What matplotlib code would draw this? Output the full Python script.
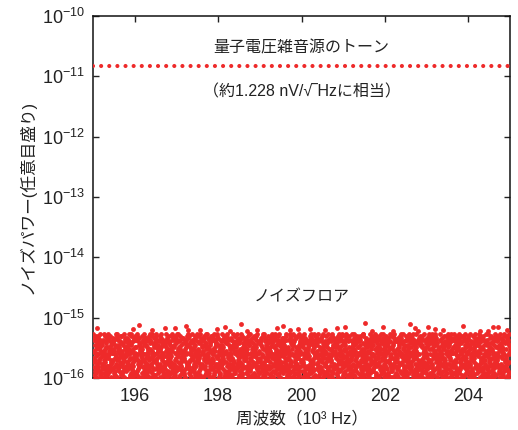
import numpy as np
import matplotlib
matplotlib.use("Agg")
import matplotlib.pyplot as plt
from matplotlib.ticker import FixedLocator, NullLocator

plt.rcParams['font.family'] = ['Liberation Sans', 'Noto Sans CJK JP', 'DejaVu Sans']
plt.rcParams['mathtext.fontset'] = 'custom'
plt.rcParams['mathtext.rm'] = 'Liberation Sans'
plt.rcParams['mathtext.it'] = 'Liberation Sans'

# ---------------- data ----------------
x_min, x_max = 195.0, 205.0
x_ticks = [196, 198, 200, 202, 204]
x_tick_labels = ['196', '198', '200', '202', '204']
y_exponents = [-16, -15, -14, -13, -12, -11, -10]
y_tick_labels = ['10$^{-16}$', '10$^{-15}$', '10$^{-14}$', '10$^{-13}$',
                 '10$^{-12}$', '10$^{-11}$', '10$^{-10}$']

tone_level = 1.47e-11          # quantum voltage noise source tone
noise_log_low = -16.04          # noise floor band (log10 power), code 'a'
noise_log_high = -15.27         # noise floor band (log10 power), code 'z'

# noise floor spectrum, one letter per frequency bin (a = low ... z = high)
noise_codes = (
    "qmzadkxhwtbfpleyrvncsjogiuhbyxofkrtlmsdwazqeucpvgnjitpvjcwnlzeaqrgkhyuosdbmfixwdesiznmxqbgofvhaytkrjlcpu"
    "kagrvuxlpqwhecodfbmtjsinzycxlbzqitgwpfhrmsvaojkenduyyjoeqdmhutfkzcbalwnxgrsvpinfksaqbxgutjwvolhrzdcmpiey"
    "utzhgmcjqeifvrkoawxdsbpylnemwsnzfdaoygvjbltxcikhpurqjsqnkbecpmrywlvahzufoitgdxbkmvoxetdsahjgnqwprlfiyczu"
    "ravwyfjimhczoqepkunblxstdgoxucdkyszvlgphjmraeqwtbnifvyrhjqcsbnxzflugmodtpawkeiihdgtaunkvqbszxerwcpjolfmy"
    "dlpuitvormkebnhsfqjyzacgwxscetjlwdyipaxumfvzghbonkqrzgbcpvsryjwdikmhtqfxneluoafnxqemdlbgrwcuovskaiyhjtpz"
    "xtijyghakeusdlocrvpqfmzwbnlrhfubgnwsjtpyexdaiqkcomzvpeyklroqfcnmudgzjbvhxiwastaojpbhqwcxyvmltingdsekzruf"
    "mzfoxsnpkdwelraitcbguqjvyhgcykmpolaxrhbezwdjvsqfiuntwuamzjybhfgnxpctqikrdeslovhiwtqrzjngsbmlyvcoxkfapedu"
    "bvqkyiaduznxfomwehtcjrplsgndoxwrgcmabjivtlzkeusqhyfpyegsabtovjqwznphildkucmxfrkfwcnizqogdyjeupxrshbmtlav"
    "sxhlnepmaqugwbrifyokdctvzjtgzmfwlhcvoparixdsnjkbueqyjqdbrtxnsyhowikzgmaclfupveephquvmklixbtwajfosgynzcdr"
    "zkajdfhcxmvrtgbqwsiolepnyulbnrgiwkqdpsvyxehaumzotcfjvcixosmbyelfzwqatkrnjghpdudwmyzleqtjhcgnbkosvarupfxi"
    "hnuexkvtbprqsmogyzfjiwdlcarmsdpghbnwfqjlezcxukiayvotofrtzcuwnavdgiklhyexpbsqjmgjbenyrmcadzthsvfpuqolkxiw"
    "ytwlacoskfjupzimerxhndbvgqcqimuwpshrodanetbgyvjlfzxkiexvlhqufrtkjcgsmpzodwnybaupyctbjxgqmkhnzfadviwlsreo"
    "wlxhgbkyaqnczrusfdtpemjiovqjptkdyfmsuehwvgzlarbocnximbdnvlkrfwzcqyshoeptxgiajuaiqwohsnmuetdxbjlcfygzkvrp"
    "nxlspfqgbjwaoktyzchvdmuiereufkqntwrzyxjamlbdoghcpvsikyoqcwebgmhlaiszvdpnfrtjuxtorzdiqclgvufmwhbaynksejpx"
    "svbxojyidatwqlgpkcfhenruzmzyqirdkobmgatlwxunpjesvhfcdqhtmigwcpzaeukxrjlsfvyonbfgoatvnxhkzlbrjwydecmquisp"
    "jcnmwqsxkbytgpadiofrvzhelupmvgxfzotrjceiqnslwbkhyuadgwptdxuqeabrklsnvzjcihmyfocfrsgyhjmutbqzaxwpidklveno"
    "lvgdrbmkchxiosuqtapfyjwnezxpkbeoujzacmrvhtfgsnlqidwybodfwckitmsrhlqyxenzjgvapuiksyhanbpfxlzdquwoevtmgcrj"
    "rezsmnqhpfjubgldcwvaixotykvudjxalgystfcepwmibrnzqhkoqwfpnujebsomxcgkathivdlrzyekhaolurxwbdzcjigvyfnstqpm"
    "dyzpvqgtxwnkhclbaurmioefjshgkqlazwvndpejxbomtcfusirymirkbtvldfhgcpyqueajonwzxsnutyjgcmlqoizvfxebwdrpashk"
    "pjaxbzetlhsvikqofdyncgrwumtsnfzxwebqkahgjoylpudvmcriabcyqhxrnjvldtzeiwmsgoukpfyhqxwkctfaeisjzbrvlmnodgup"
    "cfenlyurdkmqsxzhwbjavtiopgoeiqxtnawuzbfhyjgscplkmvrdxmkfsgrdhyncwtobalevjupqzivtdnwgpbzqhefokrmuxjlcsyia"
    "faqdurmbgjoxvtcpeilkzhnwsykxdvlopjmhysnwbreiftcgzqaubntjxemqsircwdvpzygfouklahihmlnrxjcvygdufwapetkozbqs"
)

# sparse peaks rising above the noise floor band
outlier_freq = [195.09, 195.97, 196.11, 196.41, 196.73, 196.97, 197.22, 197.29,
                197.57, 197.97, 198.17, 198.29, 198.55, 198.69, 198.93, 199.41,
                199.56, 199.72, 199.92, 200.20, 200.56, 200.84, 201.04, 201.52,
                201.68, 201.96, 202.20, 202.60, 202.72, 202.80, 203.04, 203.20,
                203.40, 203.88, 204.28, 204.48, 204.60, 204.72, 204.92]
outlier_power = [6.8e-16, 6.5e-16, 7.5e-16, 6.25e-16, 6.8e-16, 6.7e-16, 7.4e-16, 6.25e-16,
                 6.25e-16, 6.5e-16, 7.1e-16, 6.0e-16, 7.8e-16, 6.0e-16, 6.25e-16, 6.8e-16,
                 7.4e-16, 6.25e-16, 6.5e-16, 6.5e-16, 6.25e-16, 6.7e-16, 7.1e-16, 8.1e-16,
                 6.0e-16, 7.1e-16, 6.0e-16, 7.8e-16, 6.8e-16, 6.0e-16, 7.1e-16, 6.5e-16,
                 6.25e-16, 7.4e-16, 6.0e-16, 6.0e-16, 7.1e-16, 7.1e-16, 6.25e-16]

# ---------------- derived ----------------
codes = np.array([ord(c) - ord('a') for c in noise_codes], dtype=float)
noise_freq = np.linspace(x_min, x_max, len(codes))
noise_power = 10 ** (noise_log_low + codes / 25.0 * (noise_log_high - noise_log_low))

red = '#ee2a2a'
ink = '#222222'

fig = plt.figure(figsize=(5.18, 4.30), dpi=100)
ax = fig.add_axes([93 / 518, 1 - 378 / 430, (510 - 93) / 518, (378 - 16) / 430])

ax.plot(noise_freq, noise_power, 'o', color=red, markersize=3.5,
        markeredgewidth=0, zorder=3)
ax.plot(outlier_freq, outlier_power, 'o', color=red, markersize=3.5,
        markeredgewidth=0, zorder=3)

ax.axhline(tone_level, color=red, linewidth=3.0, linestyle=(0, (0.001, 1.95)),
           dash_capstyle='round', zorder=3)

ax.set_yscale('log')
ax.set_xlim(x_min, x_max)
ax.set_ylim(10.0 ** y_exponents[0], 10.0 ** y_exponents[-1])

ax.xaxis.set_major_locator(FixedLocator(x_ticks))
ax.set_xticklabels(x_tick_labels)
ax.xaxis.set_minor_locator(NullLocator())
ax.yaxis.set_major_locator(FixedLocator([10.0 ** e for e in y_exponents]))
ax.yaxis.set_minor_locator(NullLocator())
ax.set_yticklabels(y_tick_labels)

ax.tick_params(axis='both', which='major', direction='in', length=4.5, width=1.0,
               top=True, right=True, labelsize=13, colors=ink, pad=6)
ax.tick_params(axis='x', pad=7)
for s in ax.spines.values():
    s.set_linewidth(1.1)
    s.set_color('#111111')

ax.set_xlabel('周波数（10³ Hz）', fontsize=12, color=ink, labelpad=4)
ax.set_ylabel('ノイズパワー(任意目盛り)', fontsize=12, color=ink, labelpad=4)

ax.text(200.0, 10 ** -10.53, '量子電圧雑音源のトーン', ha='center', va='center',
        fontsize=11.5, color=ink)
ax.text(200.0, 10 ** -11.26, '（約1.228 nV/√‾Hzに相当）', ha='center', va='center',
        fontsize=11.5, color=ink)
ax.text(200.0, 10 ** -14.66, 'ノイズフロア', ha='center', va='center',
        fontsize=11.5, color=ink)

fig.savefig('out.png', dpi=100)
